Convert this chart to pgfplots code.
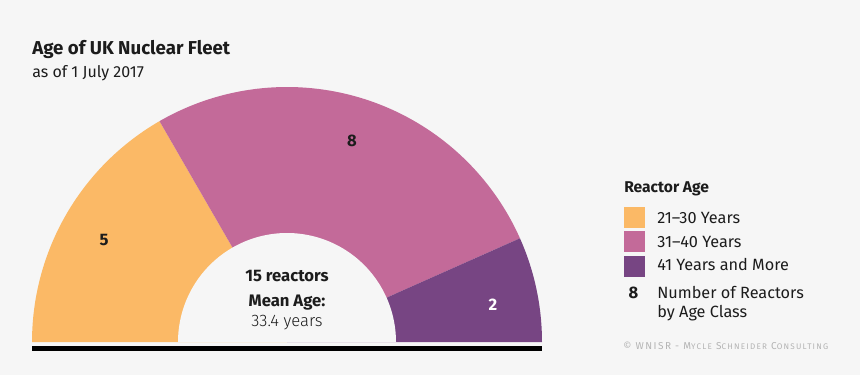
\documentclass[border=0pt]{standalone}
\usepackage{pgfplots}
\pgfplotsset{compat=1.18}
\usepackage{fontspec}
\setmainfont{Fira Sans}
\newfontfamily\scfont[LetterSpace=15]{Fira Sans}
\newfontfamily\lightfont{Fira Sans Light}
\definecolor{bg}{HTML}{F6F6F6}
\definecolor{cA}{HTML}{FBB966}
\definecolor{cB}{HTML}{C36A99}
\definecolor{cC}{HTML}{774583}
\definecolor{txt}{HTML}{1C1C1C}
\definecolor{cpy}{HTML}{B4B4B4}
% data: reactors per age class
\def\vA{5}\def\vB{8}\def\vC{2}
\pgfmathsetmacro\tot{\vA+\vB+\vC}
\pgfmathsetmacro\aA{180}
\pgfmathsetmacro\aB{180-180*\vA/\tot}
\pgfmathsetmacro\aC{\aB-180*\vB/\tot}
\def\cx{287}\def\cy{33}\def\R{255}\def\r{109}
\newcommand{\fsc}[1]{{\fontsize{6.1}{6}\selectfont #1}}
\begin{document}
\begin{tikzpicture}
\begin{axis}[scale only axis, width=645pt, height=281.25pt,
  xmin=0, xmax=860, ymin=0, ymax=375, axis lines=none, clip=false]
\fill[bg] (axis cs:0,0) rectangle (axis cs:860,375);
\addplot[draw=none, fill=cA, domain=\aA:\aB, samples=80, variable=\t]
  ({\cx+\R*cos(\t)}, {\cy+\R*sin(\t)}) -- (axis cs:\cx,\cy) -- cycle;
\addplot[draw=none, fill=cB, domain=\aB:\aC, samples=100, variable=\t]
  ({\cx+\R*cos(\t)}, {\cy+\R*sin(\t)}) -- (axis cs:\cx,\cy) -- cycle;
\addplot[draw=none, fill=cC, domain=\aC:0, samples=40, variable=\t]
  ({\cx+\R*cos(\t)}, {\cy+\R*sin(\t)}) -- (axis cs:\cx,\cy) -- cycle;
\addplot[draw=none, fill=bg, domain=0:180, samples=120, variable=\t]
  ({\cx+\r*cos(\t)}, {\cy+\r*sin(\t)}) -- cycle;
\addplot[black, line width=3.75pt] coordinates {(32,27) (542,27)};
% value labels
\node[font=\fontsize{12.5}{14}\selectfont\bfseries, text=txt] at (axis cs:104,135) {\vA};
\node[font=\fontsize{12.5}{14}\selectfont\bfseries, text=txt] at (axis cs:352,234) {\vB};
\node[font=\fontsize{12.5}{14}\selectfont\bfseries, text=white] at (axis cs:493,70) {\vC};
% centre
\node[anchor=base, font=\fontsize{12.5}{14}\selectfont\bfseries, text=txt] at (axis cs:287,93.3) {15 reactors};
\node[anchor=base, font=\fontsize{12.5}{14}\selectfont\bfseries, text=txt] at (axis cs:287,68.3) {Mean Age:};
\node[anchor=base, font=\fontsize{12.5}{14}\selectfont\lightfont, text=txt] at (axis cs:287,49) {33.4 years};
% title
\node[anchor=base west, inner sep=0pt, font=\fontsize{14}{16}\selectfont\bfseries, text=txt] at (axis cs:32,320) {Age of UK Nuclear Fleet};
\node[anchor=base west, inner sep=0pt, font=\fontsize{12}{14}\selectfont, text=txt] at (axis cs:32,297) {as of 1 July 2017};
% legend
\node[anchor=base west, inner sep=0pt, font=\fontsize{11.7}{13}\selectfont\bfseries, text=txt] at (axis cs:624,182.7) {Reactor Age};
\fill[cA] (axis cs:623.5,167.5) rectangle (axis cs:644.5,146.7);
\fill[cB] (axis cs:623.5,144) rectangle (axis cs:644.5,123);
\fill[cC] (axis cs:623.5,119.3) rectangle (axis cs:644.5,98.3);
\node[anchor=base west, inner sep=0pt, font=\fontsize{12.2}{13}\selectfont, text=txt] at (axis cs:657,151.7) {21–30 Years};
\node[anchor=base west, inner sep=0pt, font=\fontsize{12.2}{13}\selectfont, text=txt] at (axis cs:657,127.7) {31–40 Years};
\node[anchor=base west, inner sep=0pt, font=\fontsize{12.2}{13}\selectfont, text=txt] at (axis cs:657,104) {41 Years and More};
\node[anchor=base, inner sep=0pt, font=\fontsize{12.5}{13}\selectfont\bfseries, text=txt] at (axis cs:633.5,76.7) {8};
\node[anchor=base west, inner sep=0pt, font=\fontsize{12.2}{13}\selectfont, text=txt] at (axis cs:657,76.7) {Number of Reactors};
\node[anchor=base west, inner sep=0pt, font=\fontsize{12.2}{13}\selectfont, text=txt] at (axis cs:657,57.3) {by Age Class};
\node[anchor=base west, inner sep=0pt, font=\fontsize{7.5}{8}\selectfont\scfont, text=cpy] at (axis cs:623,26) {© WNISR - M\fsc{YCLE} S\fsc{CHNEIDER} C\fsc{ONSULTING}};
\end{axis}
\end{tikzpicture}
\end{document}
